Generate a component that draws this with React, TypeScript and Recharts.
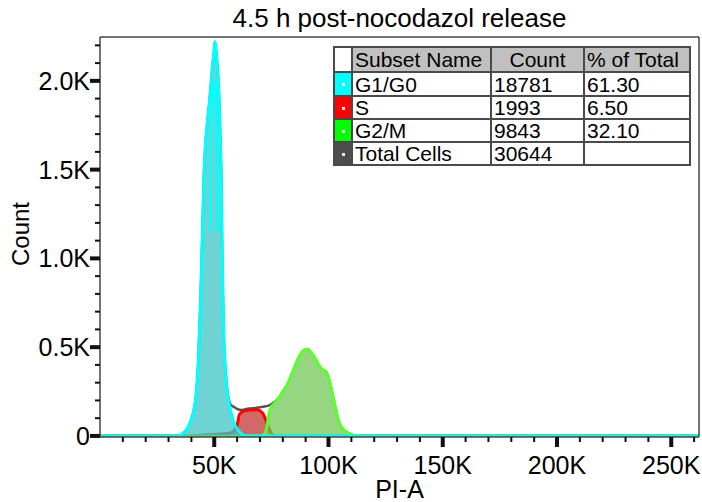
import React from "react";
import { Area, ComposedChart, Line, ReferenceLine, XAxis, YAxis } from "recharts";

// PI-A channel values in K, counts.
const g1K = [0, 34, 36, 37, 38, 39, 40, 41, 42, 43, 44, 45, 45.5, 46, 47, 48, 49, 50, 50.3, 51, 52, 52.5, 53, 53.5, 54, 55, 56, 57, 58, 59, 60, 61, 62, 64, 262.144];
const g1Count = [0, 0, 12, 22, 40, 62, 95, 140, 225, 415, 760, 1230, 1470, 1610, 1770, 1895, 2050, 2180, 2220, 2140, 1940, 1730, 1500, 1000, 640, 350, 220, 148, 100, 62, 40, 25, 12, 0, 0];

// second cyan trace inside the G1 spike
const g1InnerK = [48.4, 48.6, 49.2, 49.8, 50.3, 50.8, 51.2, 51.4];
const g1InnerCount = [1150, 1650, 1850, 1960, 1995, 1900, 1700, 1150];

const sK = [0, 38, 45, 50, 55, 58, 59, 60, 61, 62.5, 64, 66, 68.5, 70, 71.5, 73, 74.4, 75.5, 77, 262.144];
const sCount = [0, 0, 5, 8, 12, 22, 35, 60, 120, 138, 143, 146, 148, 142, 122, 75, 30, 5, 0, 0];

const g2K = [0, 70, 72, 73, 74, 75, 76, 78, 80, 82, 84, 86, 88, 90, 91, 92, 94, 96, 97, 98, 99, 100, 101, 102, 103, 104, 105, 106, 107, 108, 110, 112, 262.144];
const g2Count = [0, 0, 10, 50, 130, 165, 180, 210, 250, 290, 350, 415, 465, 488, 488, 475, 440, 395, 375, 370, 360, 330, 280, 220, 160, 105, 65, 45, 30, 20, 8, 0, 0];

const totalK = [0, 34, 36, 37, 38, 39, 40, 41, 42, 43, 44, 45, 45.5, 46, 47, 48, 49, 50, 50.3, 51, 52, 52.5, 53, 53.5, 54, 55, 56, 57, 58, 59, 60, 61, 62, 64, 66, 68, 70, 72, 74, 76, 78, 80, 82, 84, 86, 88, 90, 91, 92, 94, 96, 97, 98, 99, 100, 101, 102, 103, 104, 105, 106, 107, 108, 110, 112, 262.144];
const totalCount = [0, 0, 12, 22, 40, 62, 95, 140, 225, 415, 760, 1230, 1470, 1610, 1770, 1895, 2050, 2180, 2220, 2140, 1940, 1730, 1500, 1000, 640, 350, 228, 180, 168, 160, 152, 147, 146, 152, 155, 158, 162, 166, 172, 188, 210, 250, 290, 350, 415, 465, 488, 488, 475, 440, 395, 375, 370, 360, 330, 280, 220, 160, 105, 65, 45, 30, 20, 8, 0, 0];

const xTicks = [10, 20, 30, 40, 50, 60, 70, 80, 90, 100, 110, 120, 130, 140, 150, 160, 170, 180, 190, 200, 210, 220, 230, 240, 250, 260];
const yTicks = [0, 100, 200, 300, 400, 500, 600, 700, 800, 900, 1000, 1100, 1200, 1300, 1400, 1500, 1600, 1700, 1800, 1900, 2000, 2100, 2200];

// legend table
const subsetNames = ["G1/G0", "S", "G2/M", "Total Cells"];
const subsetCounts = ["18781", "1993", "9843", "30644"];
const subsetPercents = ["61.30", "6.50", "32.10", ""];
const subsetColors = ["#00ffff", "#ff0000", "#00ff00", "#4d4d4d"];

const FONT = '"Liberation Sans", Arial, sans-serif';

function buildRows() {
  const rows = new Map<number, any>();
  const put = (ks: number[], vs: number[], key: string) => {
    ks.forEach((k, i) => {
      if (!rows.has(k)) rows.set(k, { k });
      rows.get(k)[key] = vs[i];
    });
  };
  put(totalK, totalCount, "total");
  put(sK, sCount, "s");
  put(g2K, g2Count, "g2");
  put(g1K, g1Count, "g1");
  put(g1InnerK, g1InnerCount, "g1inner");
  return Array.from(rows.values())
    .sort((a, b) => a.k - b.k)
    .map((r) => ({ total: null, s: null, g2: null, g1: null, g1inner: null, ...r }));
}

const rows = buildRows();

function XTick(props: any) {
  const { x, y, payload } = props;
  const major = payload.value % 50 === 0;
  return (
    <g>
      <line x1={x} x2={x} y1={y} y2={y + (major ? 10 : 5)} stroke="#111" strokeWidth={major ? 4 : 2} />
      {major && (
        <text x={x} y={y + 28} textAnchor="middle" dominantBaseline="central" fontSize={25} fontFamily={FONT} fill="#000">
          {payload.value}K
        </text>
      )}
    </g>
  );
}

function YTick(props: any) {
  const { x, y, payload } = props;
  const v = payload.value;
  const major = v % 500 === 0;
  const label = v === 0 ? "0" : (v / 1000).toFixed(1) + "K";
  return (
    <g>
      <line x1={x - (major ? 10 : 5)} x2={x} y1={y} y2={y} stroke="#111" strokeWidth={major ? 4 : 2} />
      {major && (
        <text x={x - 10} y={y} textAnchor="end" dominantBaseline="central" fontSize={25} fontFamily={FONT} fill="#000">
          {label}
        </text>
      )}
    </g>
  );
}

const cell: React.CSSProperties = {
  border: "2px solid #4a4a4a",
  padding: "0 2px",
  fontSize: 21,
  lineHeight: "21px",
  whiteSpace: "nowrap",
  textAlign: "left",
};

const rowHeights = [24, 23, 23, 22];

function LegendTable() {
  return (
    <table
      style={{
        position: "absolute",
        left: 333,
        top: 46,
        borderCollapse: "collapse",
        fontFamily: FONT,
        color: "#000",
        background: "#fff",
      }}
    >
      <tbody>
        <tr style={{ height: 25 }}>
          <td style={{ ...cell, width: 16, padding: 0 }} />
          <td style={{ ...cell, width: 133, background: "#c0c0c0" }}>Subset Name</td>
          <td style={{ ...cell, width: 87, background: "#c0c0c0", textAlign: "center" }}>Count</td>
          <td style={{ ...cell, width: 100, background: "#c0c0c0" }}>% of Total</td>
        </tr>
        {subsetNames.map((name, i) => (
          <tr key={name} style={{ height: rowHeights[i] }}>
            <td style={{ ...cell, padding: 0, background: subsetColors[i], position: "relative" }}>
              <div
                style={{
                  position: "absolute",
                  left: "50%",
                  top: "50%",
                  width: 3,
                  height: 3,
                  marginLeft: -1,
                  marginTop: -1,
                  background: "#fff",
                  opacity: 0.9,
                }}
              />
            </td>
            <td style={cell}>{name}</td>
            <td style={cell}>{subsetCounts[i]}</td>
            <td style={cell}>{subsetPercents[i]}</td>
          </tr>
        ))}
      </tbody>
    </table>
  );
}

export default function App() {
  return (
    <div style={{ position: "absolute", left: 0, top: 0, width: 702, height: 502, background: "#fff", fontFamily: FONT }}>
      <ComposedChart width={702} height={502} data={rows} margin={{ top: 37, right: 3, bottom: 0, left: 0 }}>
        <XAxis
          dataKey="k"
          type="number"
          domain={[0, 262.144]}
          allowDataOverflow
          ticks={xTicks}
          interval={0}
          tickLine={false}
          tickSize={0}
          tickMargin={0}
          tick={XTick}
          axisLine={{ stroke: "#444", strokeWidth: 1.5 }}
          height={65}
        />
        <YAxis
          type="number"
          domain={[-6, 2247]}
          allowDataOverflow
          ticks={yTicks}
          interval={0}
          tickLine={false}
          tickSize={0}
          tickMargin={0}
          tick={YTick}
          axisLine={{ stroke: "#444", strokeWidth: 1.5 }}
          width={100}
        />
        <ReferenceLine y={2247} stroke="#444" strokeWidth={1.5} />
        <ReferenceLine x={262.144} stroke="#444" strokeWidth={1.5} />
        <Area
          dataKey="total"
          type="monotone"
          connectNulls
          stroke="#555555"
          strokeWidth={2.5}
          fill="none"
          isAnimationActive={false}
        />
        <Area
          dataKey="s"
          type="monotone"
          connectNulls
          stroke="#ff0000"
          strokeWidth={3}
          fill="#c33737"
          fillOpacity={0.75}
          isAnimationActive={false}
        />
        <Area
          dataKey="g2"
          type="monotone"
          connectNulls
          stroke="#5cff2e"
          strokeWidth={3}
          fill="#73c758"
          fillOpacity={0.75}
          isAnimationActive={false}
        />
        <Area
          dataKey="g1"
          type="monotone"
          connectNulls
          stroke="#00ffff"
          strokeWidth={3}
          fill="#3fc4c4"
          fillOpacity={0.75}
          isAnimationActive={false}
        />
        <Line
          dataKey="g1inner"
          type="monotone"
          connectNulls
          stroke="#00ffff"
          strokeWidth={2.5}
          dot={false}
          isAnimationActive={false}
        />
      </ComposedChart>
      <div style={{ position: "absolute", left: 100, width: 599, top: 3, lineHeight: "30px", fontSize: 26, textAlign: "center", color: "#000" }}>
        4.5 h post-nocodazol release
      </div>
      <div style={{ position: "absolute", left: 100, width: 599, top: 475, lineHeight: "28px", fontSize: 25, textAlign: "center", color: "#000" }}>
        PI-A
      </div>
      <div
        style={{
          position: "absolute",
          left: 21,
          top: 234,
          transform: "translate(-50%, -50%) rotate(-90deg)",
          fontSize: 24,
          lineHeight: "26px",
          whiteSpace: "nowrap",
          color: "#000",
        }}
      >
        Count
      </div>
      <LegendTable />
    </div>
  );
}
